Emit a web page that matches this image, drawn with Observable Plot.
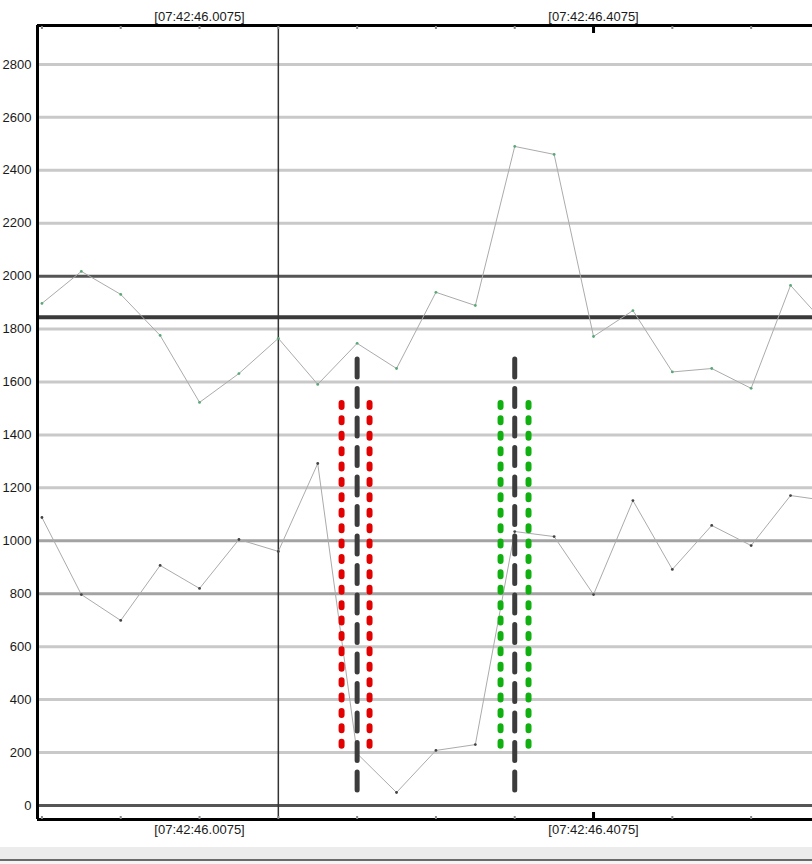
<!DOCTYPE html>
<html>
<head>
<meta charset="utf-8">
<script src="https://cdn.jsdelivr.net/npm/d3@7"></script>
<script src="https://cdn.jsdelivr.net/npm/@observablehq/plot@0.6"></script>
<style>
  html, body { margin: 0; padding: 0; background: #fff; width: 812px; height: 864px; overflow: hidden; }
  #chart svg { display: block; }
  #band { height: 12px; margin-top: 1px; background: #ececec; border-bottom: 2px solid #6a6a6a; }
  #band2 { height: 3px; background: #f4f4f4; }
</style>
</head>
<body>
<div id="chart"></div>
<div id="band"></div>
<div id="band2"></div>
<script>
// Time stamps (seconds after 07:42) of each sample
const times = [45.8475, 45.8875, 45.9275, 45.9675, 46.0075, 46.0475, 46.0875, 46.1275, 46.1675, 46.2075,
               46.2475, 46.2875, 46.3275, 46.3675, 46.4075, 46.4475, 46.4875, 46.5275, 46.5675, 46.6075, 46.6475];
// Upper series
const upper = [1897, 2018, 1931, 1776, 1523, 1632, 1765, 1591, 1746, 1651,
               1939, 1889, 2490, 2460, 1772, 1870, 1638, 1651, 1576, 1965, 1800];
// Lower series
const lower = [1088, 797, 699, 907, 820, 1005, 960, 1292, 196, 49,
               208, 230, 1035, 1016, 797, 1152, 892, 1058, 982, 1171, 1150];

// Axis ticks and labels
const yTicks = [0, 200, 400, 600, 800, 1000, 1200, 1400, 1600, 1800, 2000, 2200, 2400, 2600, 2800];
const lightGrid = [200, 400, 600, 1200, 1400, 1600, 1800, 2200, 2400, 2600, 2800];
const midGrid = [800, 1000];
const darkGrid = [0, 2000];
const minorTicks = [45.8475, 45.9275, 46.0075, 46.0875, 46.1675, 46.2475, 46.3275, 46.4075, 46.4875, 46.5675];
const majorTicks = [46.4075];
const labelTimes = [46.0075, 46.4075];
const labelTexts = ["[07:42:46.0075]", "[07:42:46.4075]"];

// Reference / marker lines
const levelLine = [1845];
const cursorTime = [46.0875];
const redTimes = [46.1517, 46.1801];
const greenTimes = [46.3131, 46.3415];
const blackTimes = [46.1675, 46.3275];
const bandRange = [1519, 222];   // red/green band (top, bottom)
const markRange = [1685, 57];    // black marker (top, bottom)

const xDomain = [45.8430, 46.6298];
const yDomain = [-53, 2947];

const data = times.map((t, i) => ({t, upper: upper[i], lower: lower[i]}));

const plot = Plot.plot({
  width: 812,
  height: 846,
  marginLeft: 37,
  marginRight: 0,
  marginTop: 25,
  marginBottom: 27,
  style: {fontFamily: "Liberation Sans, Arial, sans-serif", fontSize: "13px", background: "#fff", color: "#1a1a1a"},
  x: {domain: xDomain, axis: null},
  y: {domain: yDomain, axis: null},
  marks: [
    Plot.ruleY(lightGrid, {stroke: "#c9c9c9", strokeWidth: 3}),
    Plot.ruleY(midGrid, {stroke: "#a3a3a3", strokeWidth: 3}),
    Plot.ruleY(darkGrid, {stroke: "#555", strokeWidth: 3}),
    Plot.ruleY(levelLine, {stroke: "#3a3a3a", strokeWidth: 4}),
    Plot.ruleX(cursorTime, {stroke: "#333", strokeWidth: 1.5}),
    Plot.line(data, {x: "t", y: "upper", stroke: "#ababab", strokeWidth: 1}),
    Plot.line(data, {x: "t", y: "lower", stroke: "#ababab", strokeWidth: 1}),
    Plot.dot(data, {x: "t", y: "upper", r: 1.4, fill: "#5aa878", stroke: null}),
    Plot.dot(data, {x: "t", y: "lower", r: 1.4, fill: "#444", stroke: null}),
    Plot.ruleX(redTimes, {y1: bandRange[0], y2: bandRange[1], stroke: "#e30000", strokeWidth: 6, strokeDasharray: "4,11.4", strokeLinecap: "round"}),
    Plot.ruleX(greenTimes, {y1: bandRange[0], y2: bandRange[1], stroke: "#10b010", strokeWidth: 6, strokeDasharray: "4,11.4", strokeLinecap: "round"}),
    Plot.ruleX(blackTimes, {y1: markRange[0], y2: markRange[1], stroke: "#3c3c3c", strokeWidth: 5, strokeDasharray: "18,11.5", strokeLinecap: "round"}),
    // frame (left, top, bottom)
    Plot.ruleX([xDomain[0]], {stroke: "#000", strokeWidth: 3}),
    Plot.ruleY(yDomain, {stroke: "#000", strokeWidth: 3}),
    // ticks pointing inward
    Plot.axisX(minorTicks, {anchor: "top", tickSize: -3, stroke: "#888", strokeWidth: 2, tickFormat: () => "", label: null}),
    Plot.axisX(minorTicks, {anchor: "bottom", tickSize: -3, stroke: "#888", strokeWidth: 2, tickFormat: () => "", label: null}),
    Plot.axisX(majorTicks, {anchor: "top", tickSize: -7, stroke: "#000", strokeWidth: 3, tickFormat: () => "", label: null}),
    Plot.axisX(majorTicks, {anchor: "bottom", tickSize: -7, stroke: "#000", strokeWidth: 3, tickFormat: () => "", label: null}),
    // time labels
    Plot.text(labelTimes, {x: d => d, text: (d, i) => labelTexts[i], frameAnchor: "top", dy: -14, fill: "#1a1a1a", fontSize: 13}),
    Plot.text(labelTimes, {x: d => d, text: (d, i) => labelTexts[i], frameAnchor: "bottom", dy: 14, fill: "#1a1a1a", fontSize: 13}),
    Plot.axisY(yTicks, {anchor: "left", tickSize: 0, tickPadding: 6, label: null, fill: "#1a1a1a", fontSize: 13, tickFormat: d => String(d)})
  ]
});
document.getElementById("chart").appendChild(plot);
</script>
</body>
</html>
